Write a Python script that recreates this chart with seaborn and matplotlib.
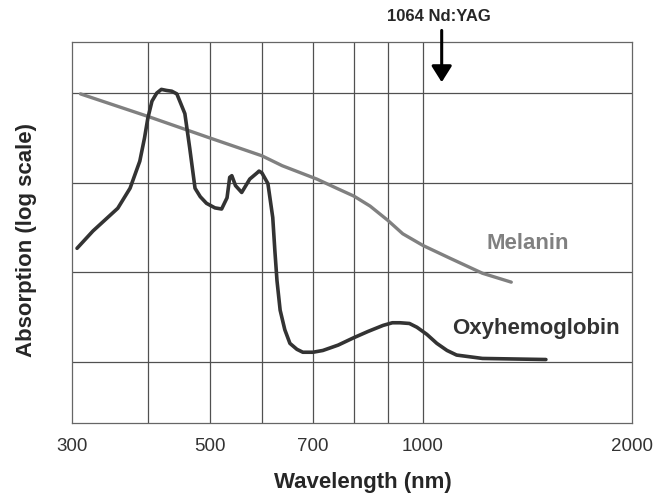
import numpy as np
import seaborn as sns
import pandas as pd
import matplotlib
matplotlib.use('Agg')
import matplotlib.pyplot as plt

# melanin curve, absorption in arbitrary units (plotted on a log axis)
melanin_nm = [310, 400, 500, 600, 638, 709, 756, 800, 846, 900, 941, 1000, 1094, 1218, 1340]
melanin_abs = [980, 550, 316, 200, 155, 110, 87, 71, 55, 38, 27, 20, 14.4, 9.8, 7.8]

# oxyhemoglobin curve
oxy_nm = [306, 325, 357, 374, 388, 395, 400, 406, 413, 420, 428, 436, 444, 457,
          465, 474, 483, 494, 509, 521, 531, 536, 540, 547, 559, 575, 590, 594,
          600, 611, 620, 624, 628, 634, 643, 653, 667, 679, 700, 723, 760, 798,
          840, 885, 912, 933, 960, 982, 1013, 1047, 1083, 1118, 1218, 1503]
oxy_abs = [18.6, 29, 52, 87, 174, 316, 525, 813, 1000, 1100, 1070, 1050, 980, 590,
           245, 87, 70, 59, 52.5, 51, 68, 115, 120, 93, 78, 110, 129, 135,
           129, 98, 41, 17.4, 8.1, 3.8, 2.3, 1.62, 1.39, 1.29, 1.29, 1.35, 1.55, 1.86,
           2.2, 2.57, 2.75, 2.75, 2.7, 2.45, 2.04, 1.62, 1.35, 1.20, 1.10, 1.07]

tick_vals = [300, 500, 700, 1000, 2000]
grid_x = [400, 500, 600, 700, 800, 900, 1000]
grid_y = [1, 10, 100, 1000]

# the original wavelength axis is only roughly logarithmic: piecewise-log scale
# through the gridline wavelengths (knot spacing)
knot_nm = [300, 400, 500, 600, 700, 800, 900, 1000, 2000]
knot_pos = [0, 76, 138, 190, 241, 282, 316, 351, 560]

def fwd(x):
    x = np.clip(np.asarray(x, dtype=float), 1e-9, None)
    return np.interp(np.log10(x), np.log10(knot_nm), knot_pos,
                     left=np.nan, right=np.nan)

def inv(p):
    return 10 ** np.interp(p, knot_pos, np.log10(knot_nm))

mel = pd.DataFrame({'nm': melanin_nm, 'abs': melanin_abs})
oxy = pd.DataFrame({'nm': oxy_nm, 'abs': oxy_abs})

sns.set_style('white')
plt.rcParams['font.family'] = ['Liberation Sans', 'DejaVu Sans']

fig = plt.figure(figsize=(6.71, 4.97), dpi=100)
ax = fig.add_axes([0.107, 0.149, 0.835, 0.766])
ax.set_xscale('function', functions=(fwd, inv))
ax.set_yscale('log')

for gx in grid_x:
    ax.axvline(gx, color='#505050', lw=0.9, zorder=1)
for gy in grid_y:
    ax.axhline(gy, color='#505050', lw=0.9, zorder=1)

sns.lineplot(data=mel, x='nm', y='abs', color='#808080', lw=2.4, ax=ax, sort=False, zorder=3)
sns.lineplot(data=oxy, x='nm', y='abs', color='#333333', lw=2.6, ax=ax, sort=False, zorder=4)
for ln in ax.lines:
    ln.set_solid_joinstyle('round')
    ln.set_solid_capstyle('round')

ax.set_xlim(300, 2000)
ax.set_ylim(0.21, 3690)
ax.set_xticks(tick_vals)
ax.set_xticklabels([str(t) for t in tick_vals])
ax.xaxis.set_minor_locator(matplotlib.ticker.NullLocator())
ax.set_yticks([])
ax.yaxis.set_minor_locator(matplotlib.ticker.NullLocator())
ax.tick_params(axis='x', length=0, pad=11, labelsize=13.5, labelcolor='#333333')

for s in ax.spines.values():
    s.set_color('#666666')
    s.set_linewidth(0.9)

ax.set_xlabel('Wavelength (nm)', fontsize=16, fontweight='bold')
ax.xaxis.set_label_coords(0.52, -0.13)
ax.set_ylabel('Absorption (log scale)', fontsize=16, fontweight='bold')
ax.yaxis.set_label_coords(-0.062, 0.48)

ax.text(1236, 21, 'Melanin', color='#808080', fontsize=16, fontweight='bold',
        va='center', ha='left')
ax.text(1101, 2.4, 'Oxyhemoglobin', color='#333333', fontsize=16, fontweight='bold',
        va='center', ha='left')

ax.annotate('', xy=(1064, 0.895), xytext=(1064, 1.031),
            xycoords=('data', 'axes fraction'), annotation_clip=False,
            arrowprops=dict(arrowstyle='-|>,head_length=0.35,head_width=0.22',
                            color='black', lw=2.2, mutation_scale=28,
                            shrinkA=0, shrinkB=0))
ax.text(1055, 1.068, '1064 Nd:YAG', transform=ax.get_xaxis_transform(),
        fontsize=12, fontweight='bold', ha='center', va='center')

fig.savefig('out.png', dpi=100)
